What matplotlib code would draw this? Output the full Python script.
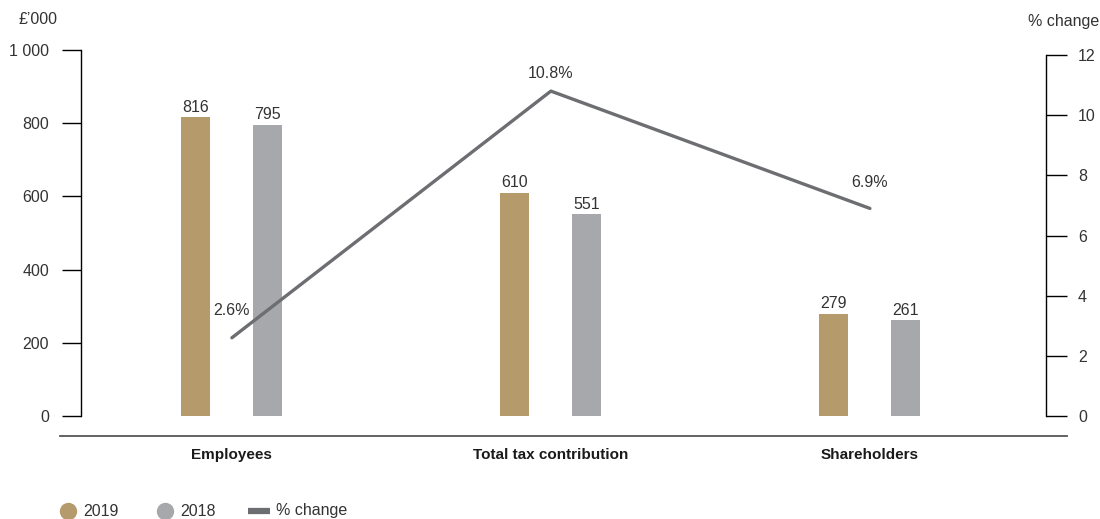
import matplotlib
matplotlib.use("Agg")
import matplotlib.pyplot as plt
from matplotlib.lines import Line2D
from matplotlib.transforms import blended_transform_factory
import numpy as np

plt.rcParams['font.family'] = ['Liberation Sans', 'DejaVu Sans']

categories = ["Employees", "Total tax contribution", "Shareholders"]
values_2019 = [816, 610, 279]
values_2018 = [795, 551, 261]
pct_change = [2.6, 10.8, 6.9]
left_ticks = [0, 200, 400, 600, 800, 1000]
left_tick_labels = ["0", "200", "400", "600", "800", "1 000"]
right_ticks = [0, 2, 4, 6, 8, 10, 12]

GOLD = "#B59A6C"
GREY = "#A7A8AB"
LINE = "#6D6E71"
TEXT = "#333333"
FS = 11.5

W, H = 1100, 519
fig = plt.figure(figsize=(W / 100, H / 100), dpi=100)

def fx(px):
    return px / W

def fy(py):
    return 1 - py / H

ax = fig.add_axes([fx(81), fy(416), fx(1046) - fx(81), (416 - 50) / H])
ax2 = ax.twinx()

x = np.arange(len(categories))
bar_w = 29 / 319
offset = 36 / 319

ax.bar(x - offset, values_2019, width=bar_w, color=GOLD, zorder=2)
ax.bar(x + offset, values_2018, width=bar_w, color=GREY, zorder=2)

for xi, v in zip(x - offset, values_2019):
    ax.annotate(f"{v}", (xi, v), xytext=(0, 2), textcoords="offset points",
                ha="center", va="bottom", fontsize=FS, color=TEXT)
for xi, v in zip(x + offset, values_2018):
    ax.annotate(f"{v}", (xi, v), xytext=(0, 2), textcoords="offset points",
                ha="center", va="bottom", fontsize=FS, color=TEXT)

ax.set_xlim(-0.473, 2.552)
ax.set_ylim(0, 1000)
ax2.set_ylim(0, 12 * 366 / 361)

ax2.plot(x, pct_change, color=LINE, lw=2.4, solid_capstyle="round", zorder=3)
pct_offsets = [20, 13, 19]
for xi, v, off in zip(x, pct_change, pct_offsets):
    ax2.annotate(f"{v}%", (xi, v), xytext=(0, off), textcoords="offset points",
                 ha="center", va="center", fontsize=FS, color=TEXT)

# Axis styling
for a in (ax, ax2):
    a.spines["top"].set_visible(False)
    a.spines["bottom"].set_visible(False)
    a.set_xticks([])
ax.spines["right"].set_visible(False)
ax2.spines["left"].set_visible(False)
ax.spines["left"].set_bounds(0, 1000)
ax2.spines["right"].set_bounds(0, 12)
ax.spines["left"].set_linewidth(1.0)
ax2.spines["right"].set_linewidth(1.0)

ax.set_yticks(left_ticks)
ax.set_yticklabels(left_tick_labels)
ax.tick_params(axis="y", length=14, width=1.0, pad=9, labelsize=FS, labelcolor=TEXT)
ax2.set_yticks(right_ticks)
ax2.tick_params(axis="y", length=15, width=1.0, pad=8, labelsize=FS, labelcolor=TEXT)

# Axis unit titles
fig.text(fx(38), fy(20), "£’000", ha="center", va="center", fontsize=FS, color=TEXT)
fig.text(fx(1064), fy(22), "% change", ha="center", va="center", fontsize=FS, color=TEXT)

# Baseline under the plot area
fig.add_artist(Line2D([fx(60), fx(1067)], [fy(436), fy(436)], color="#555555", lw=1.3))

# Category labels
trans = blended_transform_factory(ax.transData, fig.transFigure)
for xi, cat in zip(x, categories):
    ax.text(xi, fy(455), cat, transform=trans, ha="center", va="center",
            fontsize=11, fontweight="bold", color="#1a1a1a")

# Legend
ly = fy(511)
fig.add_artist(Line2D([fx(68)], [ly], marker="o", markersize=11.5, color=GOLD, lw=0))
fig.text(fx(83), ly, "2019", ha="left", va="center", fontsize=FS, color=TEXT)
fig.add_artist(Line2D([fx(165)], [ly], marker="o", markersize=11.5, color=GREY, lw=0))
fig.text(fx(180), ly, "2018", ha="left", va="center", fontsize=FS, color=TEXT)
fig.add_artist(Line2D([fx(248), fx(270)], [ly, ly], color=LINE, lw=4.5, solid_capstyle="butt"))
fig.text(fx(276), ly, "% change", ha="left", va="center", fontsize=FS, color=TEXT)

fig.savefig("out.png", dpi=100)
